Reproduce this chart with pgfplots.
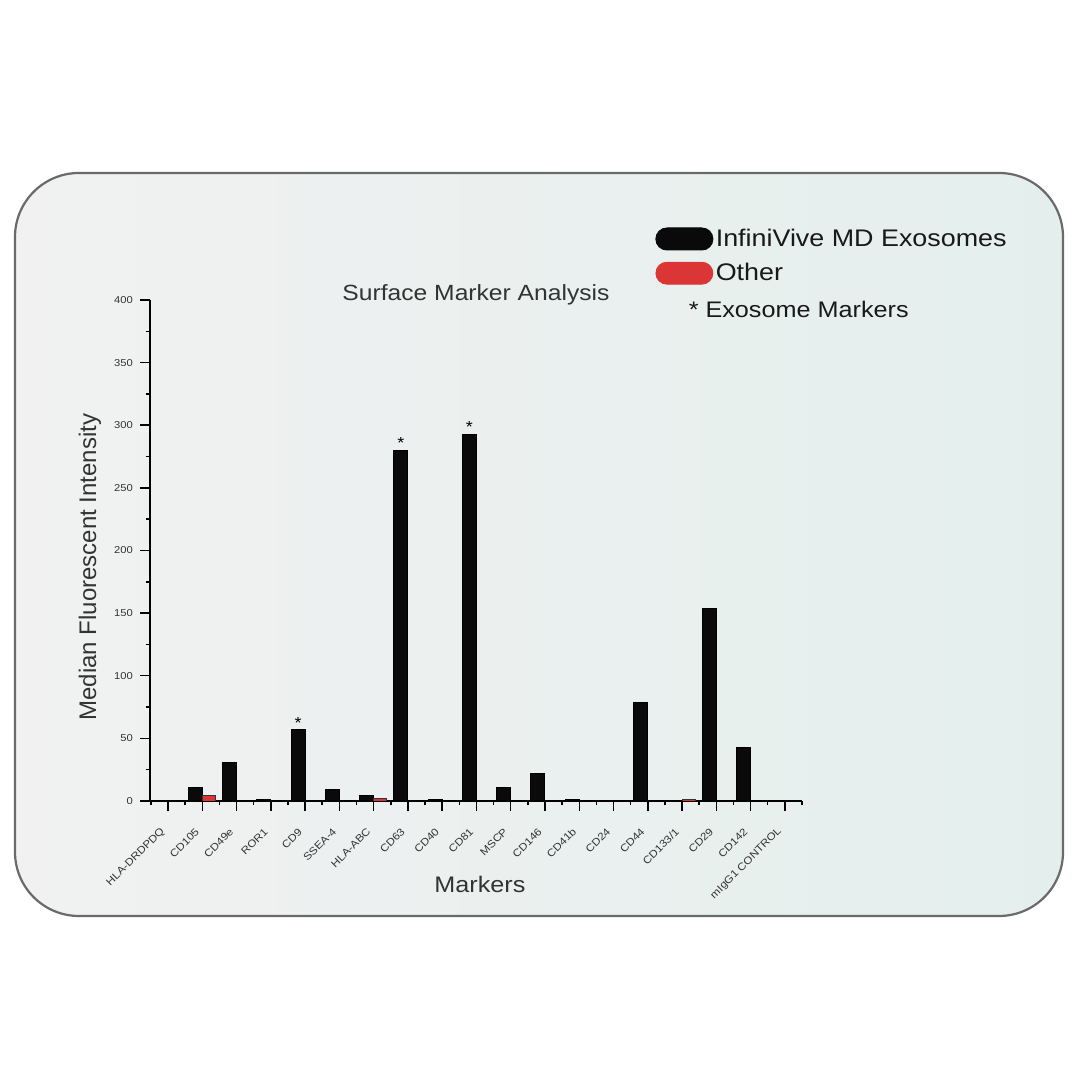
\documentclass[border=0pt]{standalone}
\usepackage{fontspec}
\setmainfont[FakeStretch=1.12]{Liberation Sans}
\newfontfamily\plainsans{Liberation Sans}
\usepackage{pgfplots}
\pgfplotsset{compat=1.18}
\definecolor{exoblack}{HTML}{0A0A0A}
\definecolor{otherred}{HTML}{DC3535}
\definecolor{cardleft}{HTML}{F1F1F1}
\definecolor{cardright}{HTML}{E4EFED}
\definecolor{cardedge}{HTML}{6A6A6A}
\definecolor{txt}{HTML}{333333}

\begin{document}
\begin{tikzpicture}
% page is 1080px = 540pt square, so 1px = 0.5pt
\path[use as bounding box] (0,0) rectangle (540pt,540pt);
\fill[white] (0,0) rectangle (540pt,540pt);
\shade[left color=cardleft, right color=cardright, rounded corners=32pt]
  (7.5pt,82pt) rectangle (531.5pt,453.5pt);
\draw[cardedge, line width=1.1pt, rounded corners=32pt]
  (7.5pt,82pt) rectangle (531.5pt,453.5pt);

\begin{axis}[
    at={(75pt,139.5pt)}, anchor=south west,
    scale only axis, width=326pt, height=250.5pt,
    xmin=-0.525, xmax=18.5, ymin=0, ymax=400,
    axis x line*=bottom, axis y line*=left,
    axis line style={line width=1pt, black},
    tick align=outside,
    every tick/.style={black, line width=0.75pt},
    major tick length=5pt, minor tick length=2.2pt,
    xtick={0,...,18},
    minor xtick={-0.5,0.5,...,18.5},
    xticklabels={HLA-DRDPDQ, CD105, CD49e, ROR1, CD9, SSEA-4, HLA-ABC, CD63,
        CD40, CD81, MSCP, CD146, CD41b, CD24, CD44, CD133/1, CD29, CD142,
        mIgG1 CONTROL},
    xticklabel style={rotate=45, anchor=east, text=txt,
        font=\fontsize{5.2}{6}\selectfont},
    xticklabel shift=7pt,
    ytick={0,50,...,400},
    minor ytick={25,75,...,375},
    yticklabel style={text=txt, font=\fontsize{5}{6}\selectfont},
    /pgf/number format/assume math mode=true,
    title={Surface Marker Analysis},
    title style={at={(axis description cs:0.5,1.016)}, anchor=center,
        yshift=-7.5pt, text=txt, font=\fontsize{11}{13}\selectfont},
    xlabel={Markers},
    xlabel style={at={(axis description cs:0.506,-0.1657)}, anchor=center,
        text=txt, font=\fontsize{11.25}{13}\selectfont},
    ylabel={Median Fluorescent Intensity},
    ylabel style={at={(axis description cs:-0.092,0.467)}, anchor=center,
        text=txt, font=\plainsans\fontsize{12}{14}\selectfont},
    legend style={at={(axis description cs:0.7745,1.1477)}, anchor=north west,
        draw=none, fill=none, inner sep=0pt, row sep=4.5pt,
        font=\fontsize{12}{13}\selectfont, text=black!90,
        nodes={inner sep=1.2pt}},
    legend cell align=left,
]

% InfiniVive MD Exosomes
\addplot[ybar, bar width=7pt, bar shift=-3.5pt, fill=exoblack, draw=black,
    line width=0.5pt,
    legend image code/.code={\fill[exoblack, rounded corners=5.5pt]
        (0pt,-5.5pt) rectangle (28.5pt,5.5pt);}]
coordinates {
    (0,0) (1,11) (2,31) (3,1.5) (4,57) (5,9) (6,4.5) (7,280) (8,1.5)
    (9,293) (10,11) (11,22) (12,1.5) (13,0) (14,79) (15,0) (16,154)
    (17,43) (18,0)
};
\addlegendentry{InfiniVive MD Exosomes}

% Other
\addplot[ybar, bar width=6.5pt, bar shift=3.3pt, fill=otherred, draw=black!80,
    line width=0.4pt,
    legend image code/.code={\fill[otherred, rounded corners=5.5pt]
        (0pt,-5.5pt) rectangle (28.5pt,5.5pt);}]
coordinates {
    (1,4.5) (6,2) (15,1)
};
\addlegendentry{Other}

\addlegendimage{legend image code/.code={}}
\addlegendentry{\fontsize{11.25}{13}\selectfont\rule{0pt}{10pt}\hspace*{-13.5pt}* Exosome Markers}

% exosome marker asterisks
\addplot[forget plot, draw=none, mark=none, nodes near coords={*},
    every node near coord/.append style={anchor=south, xshift=-3.5pt,
        inner sep=0.6pt, text=black, font=\fontsize{8}{8}\selectfont}]
coordinates {
    (4,57) (7,280) (9,293)
};

\end{axis}
\end{tikzpicture}
\end{document}
